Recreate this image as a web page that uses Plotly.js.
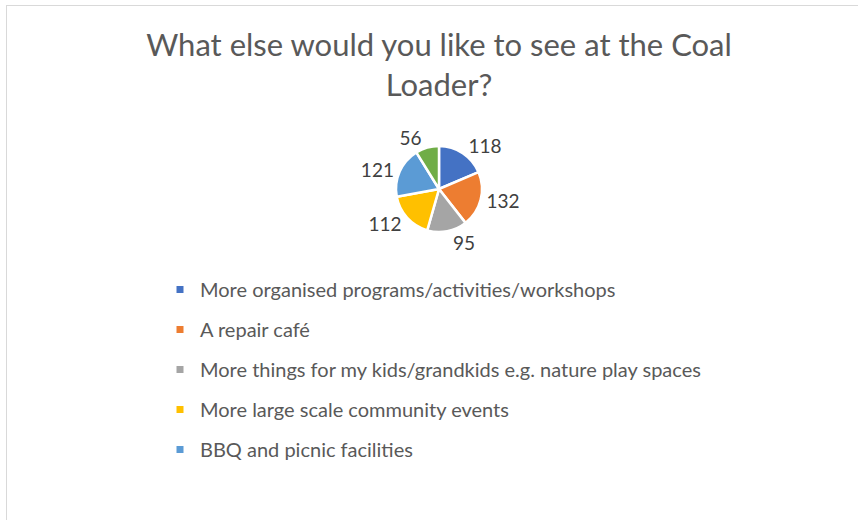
<!DOCTYPE html>
<html>
<head>
<meta charset="utf-8">
<script src="https://cdn.plot.ly/plotly-3.0.1.min.js"></script>
<style>
html,body{margin:0;padding:0;background:#fff;overflow:hidden;}
#wrap{position:relative;width:858px;height:520px;}
#chart{width:858px;height:520px;}
#frame{position:absolute;left:6px;top:5px;width:900px;height:600px;border:1px solid #d9d9d9;pointer-events:none;box-sizing:border-box;}
</style>
</head>
<body>
<div id="wrap"><div id="chart"></div><div id="frame"></div></div>
<script>
const titleText = "What else would you like to see at the Coal<br>Loader?";
const categories = [
  "More organised programs/activities/workshops",
  "A repair café",
  "More things for my kids/grandkids e.g. nature play spaces",
  "More large scale community events",
  "BBQ and picnic facilities",
  "Other"
];
const values = [118, 132, 95, 112, 121, 56];
const colors = ["#4472C4", "#ED7D31", "#A5A5A5", "#FFC000", "#5B9BD5", "#70AD47"];
const legendShown = 5;

const FONT = "Lato, 'Open Sans', sans-serif";
const W = 858, H = 520;
const cx = 439, cy = 189, r = 43;

const traces = [{
  type: "pie",
  labels: categories,
  values: values,
  sort: false,
  direction: "clockwise",
  rotation: 0,
  marker: {colors: colors, line: {color: "#ffffff", width: 2.5}},
  textinfo: "value",
  textposition: "outside",
  textfont: {family: FONT, size: 19, color: "#404040"},
  showlegend: false,
  hoverinfo: "label+value",
  domain: {x: [(cx - r) / W, (cx + r) / W], y: [1 - (cy + r) / H, 1 - (cy - r) / H]}
}];

for (let i = 0; i < legendShown; i++) {
  traces.push({
    type: "scatter",
    mode: "markers",
    x: [null], y: [null],
    name: categories[i],
    legendgroup: "g" + i,
    marker: {symbol: "square", size: 7, color: colors[i]},
    showlegend: true,
    hoverinfo: "skip"
  });
}

const layout = {
  width: W, height: H,
  margin: {l: 0, r: 0, t: 0, b: 0},
  paper_bgcolor: "#ffffff",
  plot_bgcolor: "rgba(0,0,0,0)",
  font: {family: FONT, color: "#595959"},
  title: {
    text: titleText,
    font: {family: FONT, size: 31, color: "#595959"},
    x: 439 / W, xanchor: "center",
    y: 1 - 56 / H, yanchor: "top",
    xref: "paper", yref: "container"
  },
  xaxis: {visible: false},
  yaxis: {visible: false},
  showlegend: true,
  legend: {
    x: 160 / W, xanchor: "left",
    y: 1 - 270 / H, yanchor: "top",
    traceorder: "grouped",
    tracegroupgap: 11,
    itemclick: false,
    font: {family: FONT, size: 20, color: "#595959"},
    bgcolor: "rgba(0,0,0,0)"
  }
};

Plotly.newPlot("chart", traces, layout, {displayModeBar: false, staticPlot: true});
</script>
</body>
</html>
